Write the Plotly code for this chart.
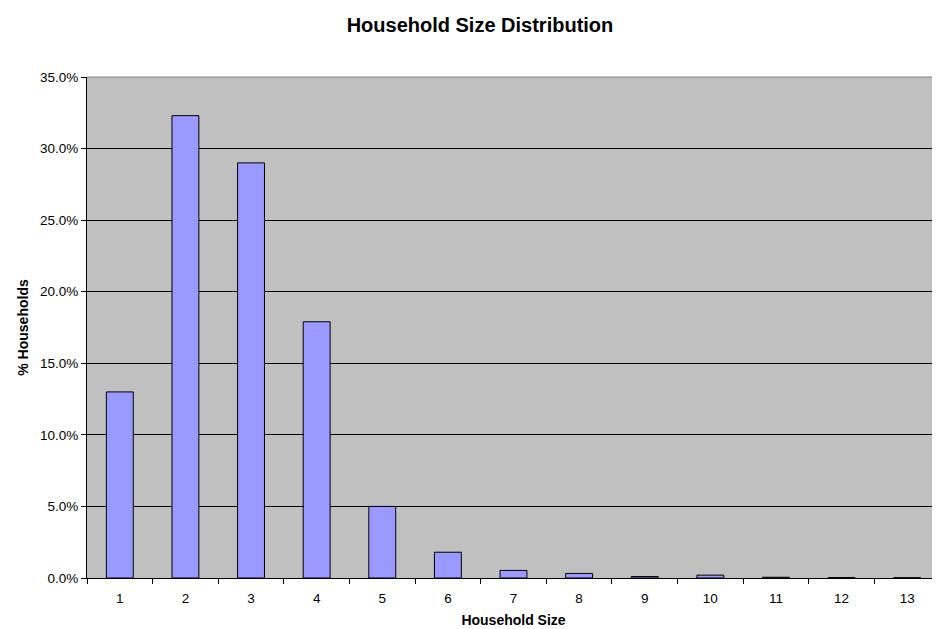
import plotly.graph_objects as go

household_size = ["1", "2", "3", "4", "5", "6", "7", "8", "9", "10", "11", "12", "13"]
pct_households = [13.0, 32.3, 29.0, 17.9, 5.0, 1.8, 0.53, 0.32, 0.1, 0.2, 0.05, 0.03, 0.02]
y_ticks = [0, 5, 10, 15, 20, 25, 30, 35]

fig = go.Figure()
fig.add_trace(go.Bar(
    x=household_size, y=pct_households,
    marker=dict(color="#9999FF", line=dict(color="black", width=1)),
))

fig.update_layout(
    width=932, height=621,
    paper_bgcolor="white", plot_bgcolor="#C0C0C0",
    margin=dict(l=79, r=0, t=69, b=51),
    bargap=0.59,
    showlegend=False,
    font=dict(family="Arial, Liberation Sans, sans-serif", size=13.5, color="black"),
    title=dict(text="<b>Household Size Distribution</b>", x=0.5064, xanchor="center",
               y=0.973, yanchor="middle", font=dict(size=20)),
    xaxis=dict(
        type="category", tickson="boundaries", ticks="outside", ticklen=5,
        tickcolor="black", showline=True, linecolor="black", linewidth=1,
        showgrid=False, ticklabelstandoff=8,
        title=dict(text="<b>Household Size</b>", standoff=9, font=dict(size=14)),
    ),
    yaxis=dict(
        range=[0, 35], tickvals=y_ticks,
        ticktext=[f"{v:.1f}%" for v in y_ticks],
        ticks="outside", ticklen=5, tickcolor="black",
        showline=True, linecolor="black", linewidth=1,
        showgrid=True, gridcolor="black", gridwidth=1,
        zeroline=False,
        title=dict(text="<b>% Households</b>", standoff=8, font=dict(size=14)),
    ),
    shapes=[dict(type="line", xref="paper", yref="paper", x0=0, x1=1, y0=1, y1=1,
                 line=dict(color="#808080", width=1))],
)

fig.write_html("out.html")
